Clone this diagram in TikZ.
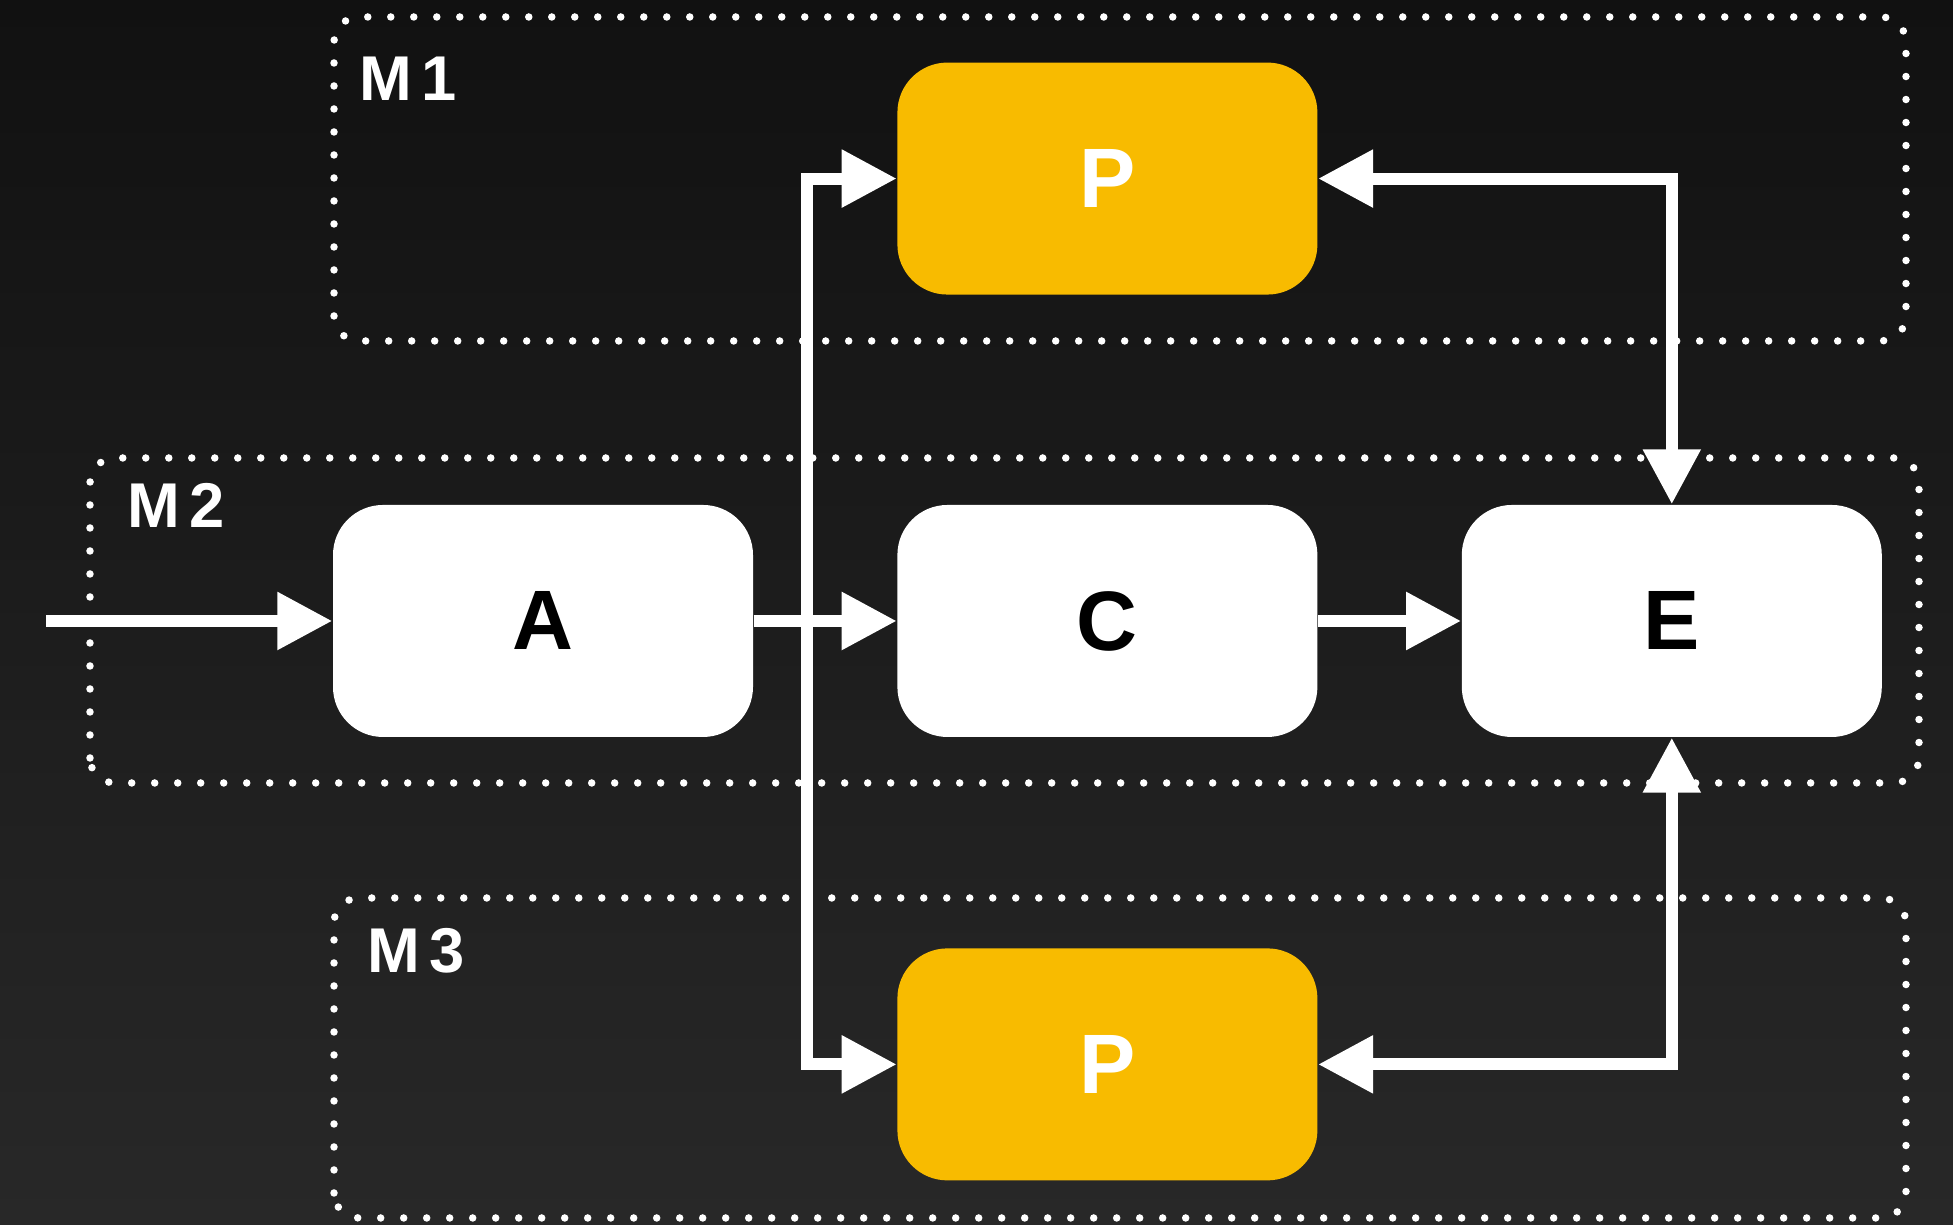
\documentclass[tikz,border=0pt]{standalone}
\usepackage{fontspec}
\setmainfont{Liberation Sans}
\usetikzlibrary{arrows.meta,positioning}

\definecolor{bgtop}{RGB}{17,17,17}
\definecolor{bgbot}{RGB}{40,40,40}
\definecolor{amber}{RGB}{248,187,0}

\begin{document}
\begin{tikzpicture}[line join=miter,>={Triangle[length=0.55cm,width=0.55cm]},
  every node/.style={inner sep=0pt},
  blk/.style={rounded corners=0.5cm,minimum width=4.2cm,minimum height=2.32cm,font=\fontsize{24}{24}\selectfont\bfseries},
  wblk/.style={blk,fill=white,text=black},
  yblk/.style={blk,fill=amber,text=white},
  zone/.style={white,line width=0.075cm,line cap=round,dash pattern=on 0pt off 0.23cm,rounded corners=0.25cm},
  tag/.style={white,font=\fontsize{18}{18}\selectfont\bfseries\addfontfeature{LetterSpace=15}},
  flow/.style={white,line width=0.12cm,->}]
  \def\gap{1.43cm}
  % backdrop
  \shade[top color=bgtop,bottom color=bgbot] (0,0) rectangle (19.53,12.25);
  % dotted zones
  \draw[zone] (3.34,8.84) rectangle (19.06,12.08);
  \draw[zone] (0.90,4.42) rectangle (19.19,7.67);
  \draw[zone] (3.34,0.07) rectangle (19.06,3.27);
  \node[tag] (m1) at (4.08,11.46) {M1};
  \node[tag] (m2) at (1.76,7.20) {M2};
  \node[tag] (m3) at (4.16,2.74) {M3};
  % blocks
  \node[wblk] (a) at (5.43,6.04) {A};
  \node[wblk,right=\gap of a] (c) {C};
  \node[wblk,right=\gap of c] (e) {E};
  \node[yblk,above=2.09cm of c] (p1) {P};
  \node[yblk,below=2.10cm of c] (p2) {P};
  % connectors
  \coordinate (in) at (0.46,6.04);
  \coordinate (bus) at (8.07,6.04);
  \draw[flow] (in) -- (a);
  \draw[flow] (a) -- (c);
  \draw[flow] (c) -- (e);
  \draw[flow] (bus) |- (p1);
  \draw[flow] (bus) |- (p2);
  \draw[flow,<->] (p1) -| (e);
  \draw[flow,<->] (p2) -| (e);
\end{tikzpicture}
\end{document}
